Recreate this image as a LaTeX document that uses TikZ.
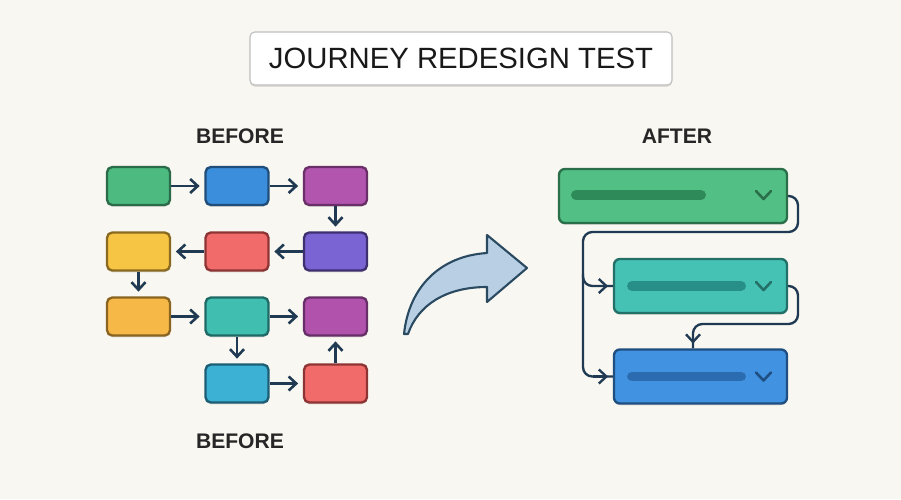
\documentclass[tikz,border=0pt]{standalone}
\usepackage{fontspec}
\setmainfont{Liberation Sans}
\usetikzlibrary{arrows.meta,shadows,calc}
\definecolor{bg}{HTML}{F9F7F1}
\definecolor{ink}{HTML}{1F3A52}
\definecolor{gF}{HTML}{4DBA80}\definecolor{gD}{HTML}{2A6B4A}
\definecolor{bF}{HTML}{3A8EDB}\definecolor{bD}{HTML}{1F4E7A}
\definecolor{pF}{HTML}{B255AE}\definecolor{pD}{HTML}{6A2F68}
\definecolor{yF}{HTML}{F7C544}\definecolor{yD}{HTML}{8A6A20}
\definecolor{rF}{HTML}{F26B6B}\definecolor{rD}{HTML}{8E3434}
\definecolor{vF}{HTML}{7A63D3}\definecolor{vD}{HTML}{3E3070}
\definecolor{oF}{HTML}{F6B948}\definecolor{oD}{HTML}{8A6420}
\definecolor{tF}{HTML}{40BFB0}\definecolor{tD}{HTML}{1F6A66}
\definecolor{mF}{HTML}{B152AD}\definecolor{mD}{HTML}{672F68}
\definecolor{cF}{HTML}{3CB1D3}\definecolor{cD}{HTML}{1D5E74}
\definecolor{AF}{HTML}{52BF84}\definecolor{AD}{HTML}{2B6F4A}\definecolor{AB}{HTML}{2F8A5A}
\definecolor{BF}{HTML}{45C2B4}\definecolor{BD}{HTML}{237068}\definecolor{BB}{HTML}{278F88}
\definecolor{CF}{HTML}{4192E0}\definecolor{CD}{HTML}{1F4E80}\definecolor{CB}{HTML}{2B6CB0}
\definecolor{arF}{HTML}{B9CFE3}\definecolor{arD}{HTML}{2A4A62}
\tikzset{
  sbox/.style={draw, line width=2pt, rounded corners=4.5pt, minimum width=1.89cm, minimum height=1.14cm,
    drop shadow={shadow xshift=0pt, shadow yshift=-1.5pt, opacity=0.12, fill=black}},
  wbox/.style={draw, line width=2pt, rounded corners=5pt, minimum height=1.62cm,
    drop shadow={shadow xshift=0pt, shadow yshift=-1.5pt, opacity=0.12, fill=black}},
  arr/.style={draw=ink, line width=2.2pt, -{Straight Barb[length=6.5pt,width=12pt]}, shorten >=4pt},
  conn/.style={draw=ink, line width=2pt, rounded corners=8pt},
  bar/.style={line width=8.5pt, line cap=round},
  chev/.style={line width=2.2pt, line cap=round, line join=round},
  lbl/.style={font=\fontsize{18}{20}\selectfont\bfseries, text=black!85},
}
\begin{document}
\begin{tikzpicture}[x=0.03cm,y=-0.03cm]
\fill[bg] (0,0) rectangle (901,499);
\useasboundingbox (0,0) rectangle (901,499);
% title
\node[draw=black!25, fill=white, line width=1pt, rounded corners=4pt, minimum width=12.66cm, minimum height=1.59cm,
  drop shadow={shadow xshift=0pt, shadow yshift=-1.5pt, opacity=0.10, fill=black},
  font=\fontsize{25}{28}\selectfont, text=black!90] (title) at (461,58.5) {JOURNEY REDESIGN TEST};
\node[lbl] (lb1) at (240,136) {BEFORE};
\node[lbl] (lb2) at (240,441) {BEFORE};
\node[lbl] (la) at (677,136) {AFTER};
% left grid
\node[sbox, fill=gF, draw=gD] (n11) at (138.5,186) {};
\node[sbox, fill=bF, draw=bD] (n12) at (237,186) {};
\node[sbox, fill=pF, draw=pD] (n13) at (335.5,186) {};
\node[sbox, fill=yF, draw=yD] (n21) at (138.5,251.5) {};
\node[sbox, fill=rF, draw=rD] (n22) at (237,251.5) {};
\node[sbox, fill=vF, draw=vD] (n23) at (335.5,251.5) {};
\node[sbox, fill=oF, draw=oD] (n31) at (138.5,316.5) {};
\node[sbox, fill=tF, draw=tD] (n32) at (237,316.5) {};
\node[sbox, fill=mF, draw=mD] (n33) at (335.5,316.5) {};
\node[sbox, fill=cF, draw=cD] (n42) at (237,383.5) {};
\node[sbox, fill=rF, draw=rD] (n43) at (335.5,383.5) {};
\draw[arr] (n11) -- (n12);
\draw[arr] (n12) -- (n13);
\draw[arr] (n13) -- (n23);
\draw[arr] (n23) -- (n22);
\draw[arr] (n22) -- (n21);
\draw[arr] (n21) -- (n31);
\draw[arr] (n31) -- (n32);
\draw[arr] (n32) -- (n33);
\draw[arr] (n32) -- (n42);
\draw[arr] (n42) -- (n43);
\draw[arr] (n43) -- (n33);
% curved arrow
\draw[fill=arF, draw=arD, line width=1.8pt, line join=round]
  (404,334) .. controls (409,287) and (440,256) .. (487,253) -- (487,235) -- (527,268) -- (487,302) -- (487,287)
  .. controls (446,287) and (418,305) .. (408,334) -- cycle;
% right side
\node[wbox, fill=AF, draw=AD, minimum width=6.84cm] (A) at (673,196) {};
\node[wbox, fill=BF, draw=BD, minimum width=5.19cm] (B) at (700.5,286) {};
\node[wbox, fill=CF, draw=CD, minimum width=5.19cm] (C) at (700.5,376.5) {};
\draw[bar, AB] (576,195) -- (701,195);
\draw[bar, BB] (632,286) -- (741,286);
\draw[bar, CB] (632,376.5) -- (741,376.5);
\draw[chev, AD] (756,191) -- (763.5,199) -- (771,191);
\draw[chev, BD] (756,282) -- (763.5,290) -- (771,282);
\draw[chev, CD] (756,372.5) -- (763.5,380.5) -- (771,372.5);
\coordinate (k1) at (798,232);
\coordinate (k2) at (583,232);
\coordinate (k3) at (693,324);
\draw[conn] (A.east) -- (k1 |- A.east) -- (k1) -- (k2) -- (k2 |- C.west) -- (C.west);
\draw[arr, line width=2pt] (k2 |- C.west) ++(10,0) -- (C.west);
\draw[conn] ($(k2 |- B.west)+(0,-12)$) -- (k2 |- B.west) -- (B.west);
\draw[arr, line width=2pt] ($(k2 |- B.west)+(10,0)$) -- (B.west);
\draw[conn] (B.east) -- (k1 |- B.east) -- (k1 |- k3) -- (k3) -- (k3 |- C.north);
\draw[arr, line width=2pt] ($(k3)+(0,10)$) -- (k3 |- C.north);
\end{tikzpicture}
\end{document}
